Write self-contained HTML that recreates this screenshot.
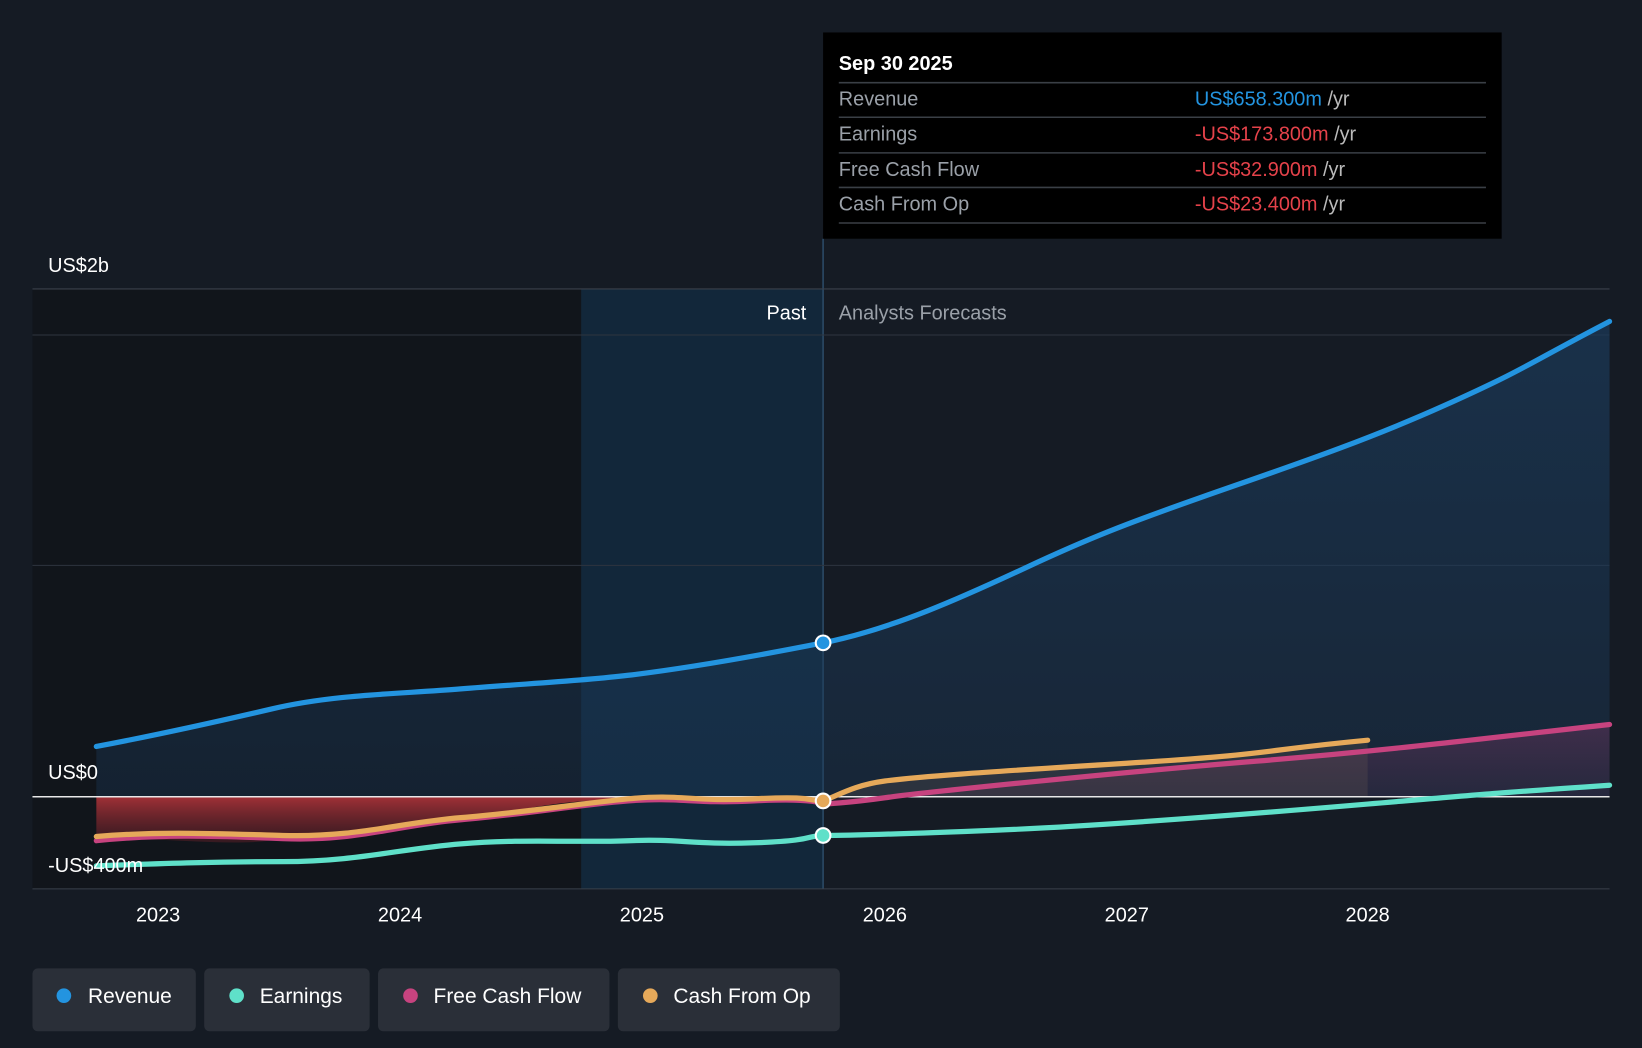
<!DOCTYPE html>
<html><head><meta charset="utf-8"><style>
html,body{margin:0;padding:0;background:#151b24;}
svg{display:block;font-family:"Liberation Sans",sans-serif;}
</style></head><body>
<svg width="1642" height="1048" viewBox="0 0 1568 1001" preserveAspectRatio="none">
<defs>
<linearGradient id="rev" x1="0" y1="0" x2="0" y2="1"><stop offset="0" stop-color="#1b3a5a" stop-opacity="0.7"/><stop offset="1" stop-color="#1b3a5a" stop-opacity="0.35"/></linearGradient>
<linearGradient id="red" x1="0" y1="0" x2="0" y2="1"><stop offset="0" stop-color="#a83238" stop-opacity="0.95"/><stop offset="1" stop-color="#5a1e26" stop-opacity="0.5"/></linearGradient>
<linearGradient id="pk" x1="0" y1="0" x2="0" y2="1"><stop offset="0" stop-color="#8a3a6a" stop-opacity="0.35"/><stop offset="1" stop-color="#8a3a6a" stop-opacity="0.1"/></linearGradient>
</defs>
<rect width="1568" height="1001" fill="#151b24"/>
<rect x="31" y="276" width="524" height="573" fill="#11151b"/>
<rect x="555" y="276" width="231" height="573" fill="#112a40" opacity="0.8"/>
<line x1="786" y1="228" x2="786" y2="849" stroke="#2b4a66" stroke-width="1.5"/>
<g stroke="#2e353f" stroke-width="1">
<line x1="31" y1="276" x2="1537" y2="276" stroke="#3a414b"/>
<line x1="31" y1="320" x2="1537" y2="320"/>
<line x1="31" y1="540" x2="1537" y2="540"/>
<line x1="31" y1="849" x2="1537" y2="849" stroke="#3a414b"/>
</g>
<!-- revenue area -->
<path d="M92,713 C150,702 200,691 260,677 S380,663 440,658 S550,651 600,645 S720,627 786,614 S920,570 980,542 S1076,500 1150,474 S1300,423 1380,387 S1460,347 1537,307 L1537,761 L92,761 Z" fill="url(#rev)"/>
<!-- red negative area -->
<path d="M92,761 L786,761 L786,768 C760,766 740,764 720,765 S660,768 600,765 S500,774 440,783 S320,791 270,801 S150,797 92,803 Z" fill="url(#red)"/>
<!-- forecast fills -->
<path d="M786,768 C810,767 830,764 845,762 S1076,737 1200,727 S1420,705 1537,692 L1537,761 L786,761 Z" fill="url(#pk)"/>
<path d="M786,765 C800,760 815,750 845,746 S930,738 1076,729 S1200,717 1306,707 L1306,761 L786,761 Z" fill="#6b5a55" opacity="0.25"/>
<line x1="31" y1="761" x2="1537" y2="761" stroke="#e8e8e8" stroke-width="1.5"/>
<g fill="none" stroke-width="5" stroke-linecap="round">
<path d="M92,803 C150,797 200,798 270,801 S380,788 440,783 S550,769 600,765 S660,768 720,765 S786,768 786,768 S810,767 845,762 S1076,737 1200,727 S1420,705 1537,692" stroke="#c7437f"/>
<path d="M92,799 C150,794 200,796 270,798 S380,786 440,781 S550,768 600,763 S660,766 720,763 S770,765 786,765 C800,760 815,750 845,746 S930,738 1076,729 S1200,717 1306,707" stroke="#e6a95a"/>
<path d="M92,827 C150,825 200,823 270,823 S380,811 440,806 S550,805 600,803 S660,807 720,805 S770,798 786,798 S850,797 950,793 S1200,777 1306,768 S1420,758 1537,750" stroke="#5fe0c9"/>
<path d="M92,713 C150,702 200,691 260,677 S380,663 440,658 S550,651 600,645 S720,627 786,614 S920,570 980,542 S1076,500 1150,474 S1300,423 1380,387 S1460,347 1537,307" stroke="#2394e0"/>
</g>
<circle cx="786" cy="614" r="7" fill="#2394e0" stroke="#fff" stroke-width="2"/>
<circle cx="786" cy="765" r="7" fill="#e6a95a" stroke="#fff" stroke-width="2"/>
<circle cx="786" cy="798" r="7" fill="#5fe0c9" stroke="#fff" stroke-width="2"/>
<g fill="#fff" font-size="19">
<text x="46" y="260">US$2b</text>
<text x="46" y="744">US$0</text>
<text x="46" y="833">-US$400m</text>
<text x="770" y="305" text-anchor="end">Past</text>
<text x="801" y="305" fill="#9aa0a8">Analysts Forecasts</text>
<g text-anchor="middle"><text x="151" y="880">2023</text><text x="382" y="880">2024</text><text x="613" y="880">2025</text><text x="845" y="880">2026</text><text x="1076" y="880">2027</text><text x="1306" y="880">2028</text></g>
</g>
<rect x="786" y="31" width="648" height="197" fill="#000"/>
<g font-size="19">
<text x="801" y="67" fill="#fff" font-weight="bold">Sep 30 2025</text>
<g stroke="#3a3f46" stroke-width="1.5"><line x1="801" y1="79" x2="1419" y2="79"/><line x1="801" y1="112" x2="1419" y2="112"/><line x1="801" y1="146" x2="1419" y2="146"/><line x1="801" y1="179" x2="1419" y2="179"/><line x1="801" y1="213" x2="1419" y2="213"/></g>
<g fill="#9aa0a8"><text x="801" y="101">Revenue</text><text x="801" y="134">Earnings</text><text x="801" y="168">Free Cash Flow</text><text x="801" y="201">Cash From Op</text></g>
<text x="1141" y="101"><tspan fill="#2394e0">US$658.300m</tspan><tspan fill="#bbb"> /yr</tspan></text>
<text x="1141" y="134"><tspan fill="#e5424a">-US$173.800m</tspan><tspan fill="#bbb"> /yr</tspan></text>
<text x="1141" y="168"><tspan fill="#e5424a">-US$32.900m</tspan><tspan fill="#bbb"> /yr</tspan></text>
<text x="1141" y="201"><tspan fill="#e5424a">-US$23.400m</tspan><tspan fill="#bbb"> /yr</tspan></text>
</g>
<g font-size="20" fill="#fff">
<rect x="31" y="925" width="156" height="60" rx="5" fill="#2a2f38"/><circle cx="61" cy="951" r="7" fill="#2394e0"/><text x="84" y="958">Revenue</text>
<rect x="195" y="925" width="158" height="60" rx="5" fill="#2a2f38"/><circle cx="226" cy="951" r="7" fill="#5fe0c9"/><text x="248" y="958">Earnings</text>
<rect x="361" y="925" width="221" height="60" rx="5" fill="#2a2f38"/><circle cx="392" cy="951" r="7" fill="#c7437f"/><text x="414" y="958">Free Cash Flow</text>
<rect x="590" y="925" width="212" height="60" rx="5" fill="#2a2f38"/><circle cx="621" cy="951" r="7" fill="#e6a95a"/><text x="643" y="958">Cash From Op</text>
</g>
</svg>
</body></html>
